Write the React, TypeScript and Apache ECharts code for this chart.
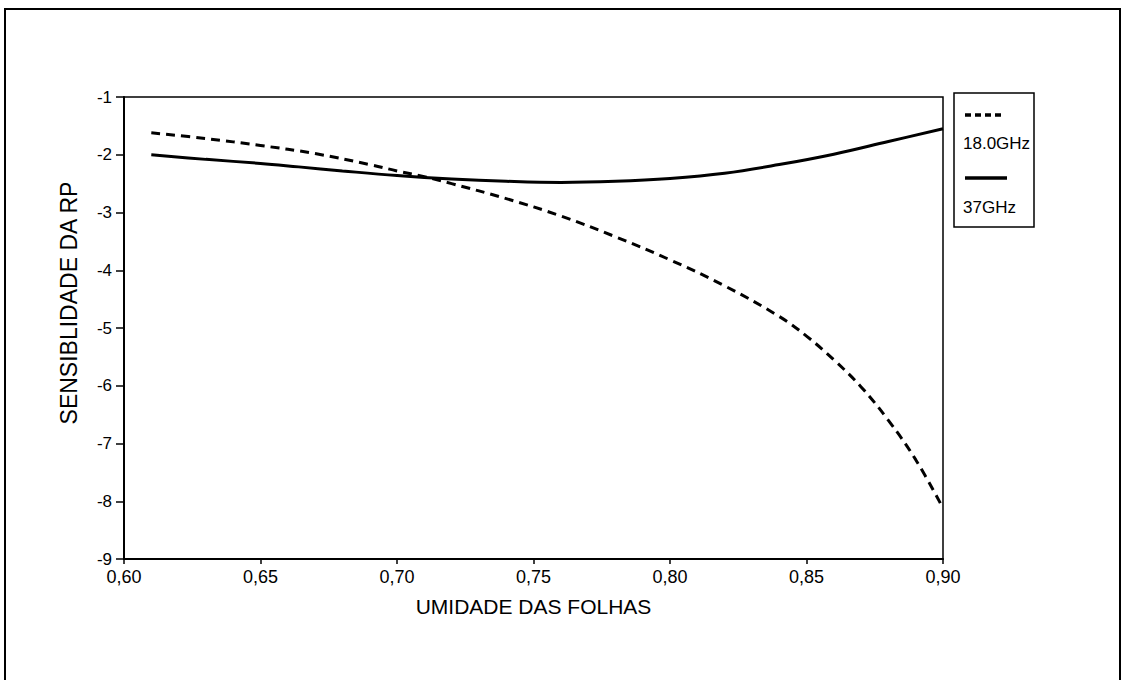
import React, { useEffect, useRef } from "react";
import * as echarts from "echarts";

const xTicks = [0.6, 0.65, 0.7, 0.75, 0.8, 0.85, 0.9];
const yTicks = [-9, -8, -7, -6, -5, -4, -3, -2, -1];

const x18 = [0.61, 0.63, 0.65, 0.67, 0.69, 0.70, 0.71, 0.72, 0.74, 0.76, 0.78, 0.80, 0.82, 0.84, 0.85, 0.86, 0.87, 0.88, 0.89, 0.90];
const y18 = [-1.62, -1.72, -1.84, -1.98, -2.17, -2.28, -2.38, -2.50, -2.76, -3.06, -3.42, -3.82, -4.27, -4.80, -5.14, -5.55, -6.02, -6.60, -7.28, -8.12];

const x37 = [0.61, 0.63, 0.65, 0.664, 0.68, 0.70, 0.72, 0.74, 0.76, 0.78, 0.80, 0.82, 0.84, 0.86, 0.88, 0.90];
const y37 = [-2.00, -2.08, -2.15, -2.21, -2.28, -2.36, -2.42, -2.46, -2.48, -2.46, -2.41, -2.32, -2.17, -1.99, -1.77, -1.55];

const seriesNames = ["18.0GHz", "37GHz"];
const xTitle = "UMIDADE DAS FOLHAS";
const yTitle = "SENSIBLIDADE DA RP";

const FONT = "Liberation Sans";

export default function App() {
  const ref = useRef<HTMLDivElement>(null);
  useEffect(() => {
    if (!ref.current) return;
    const chart = echarts.init(ref.current, null, { renderer: "svg" });
    const fmtX = (v: number) => v.toFixed(2).replace(".", ",");
    chart.setOption({
      animation: false,
      backgroundColor: "#ffffff",
      grid: {
        left: 124,
        top: 97,
        right: 1124 - 943,
        bottom: 680 - 559,
        show: true,
        borderColor: "#000",
        borderWidth: 1.5,
      },
      xAxis: {
        type: "value",
        min: 0.6,
        max: 0.9,
        interval: 0.05,
        splitLine: { show: false },
        axisLine: { lineStyle: { color: "#000", width: 2 } },
        axisTick: { show: true, length: 5, lineStyle: { color: "#000", width: 1.5 } },
        axisLabel: {
          color: "#000",
          fontFamily: FONT,
          fontSize: 18,
          margin: 9,
          formatter: (v: number) => fmtX(v),
        },
        name: xTitle,
        nameLocation: "middle",
        nameGap: 37,
        nameTextStyle: { color: "#000", fontFamily: FONT, fontSize: 21 },
      },
      yAxis: {
        type: "value",
        min: -9,
        max: -1,
        interval: 1,
        splitLine: { show: false },
        axisLine: { lineStyle: { color: "#000", width: 2 } },
        axisTick: { show: true, length: 8, lineStyle: { color: "#000", width: 1.5 } },
        axisLabel: {
          color: "#000",
          fontFamily: FONT,
          fontSize: 17,
          margin: 12,
          formatter: (v: number) => String(v),
        },
      },
      series: [
        {
          name: seriesNames[0],
          type: "line",
          data: x18.map((x, i) => [x, y18[i]]),
          smooth: 0.4,
          showSymbol: false,
          lineStyle: { color: "#000", width: 3, type: [9, 6] },
        },
        {
          name: seriesNames[1],
          type: "line",
          data: x37.map((x, i) => [x, y37[i]]),
          smooth: 0.4,
          showSymbol: false,
          lineStyle: { color: "#000", width: 3 },
        },
      ],
      graphic: [
        {
          type: "rect",
          shape: { x: 5, y: 9, width: 1115, height: 700 },
          style: { fill: "none", stroke: "#000", lineWidth: 2 },
          silent: true,
        },
        {
          type: "text",
          x: 69,
          y: 303,
          rotation: Math.PI / 2,
          style: {
            text: yTitle,
            fill: "#000",
            font: `23px ${FONT}`,
            align: "center",
            verticalAlign: "middle",
          },
        },
        {
          type: "rect",
          shape: { x: 954, y: 93, width: 80, height: 134 },
          style: { fill: "none", stroke: "#000", lineWidth: 1.5 },
        },
        {
          type: "line",
          shape: { x1: 965, y1: 115, x2: 1002, y2: 115 },
          style: { stroke: "#000", lineWidth: 3.5, lineDash: [6, 4] },
        },
        {
          type: "text",
          x: 963,
          y: 143,
          style: { text: seriesNames[0], fill: "#000", font: `17px ${FONT}`, verticalAlign: "middle" },
        },
        {
          type: "line",
          shape: { x1: 965, y1: 178, x2: 1007, y2: 178 },
          style: { stroke: "#000", lineWidth: 3.5 },
        },
        {
          type: "text",
          x: 963,
          y: 207,
          style: { text: seriesNames[1], fill: "#000", font: `17px ${FONT}`, verticalAlign: "middle" },
        },
      ],
    });
    return () => chart.dispose();
  }, []);
  return (
    <div
      ref={ref}
      style={{ position: "fixed", left: 0, top: 0, width: 1124, height: 680 }}
    />
  );
}
